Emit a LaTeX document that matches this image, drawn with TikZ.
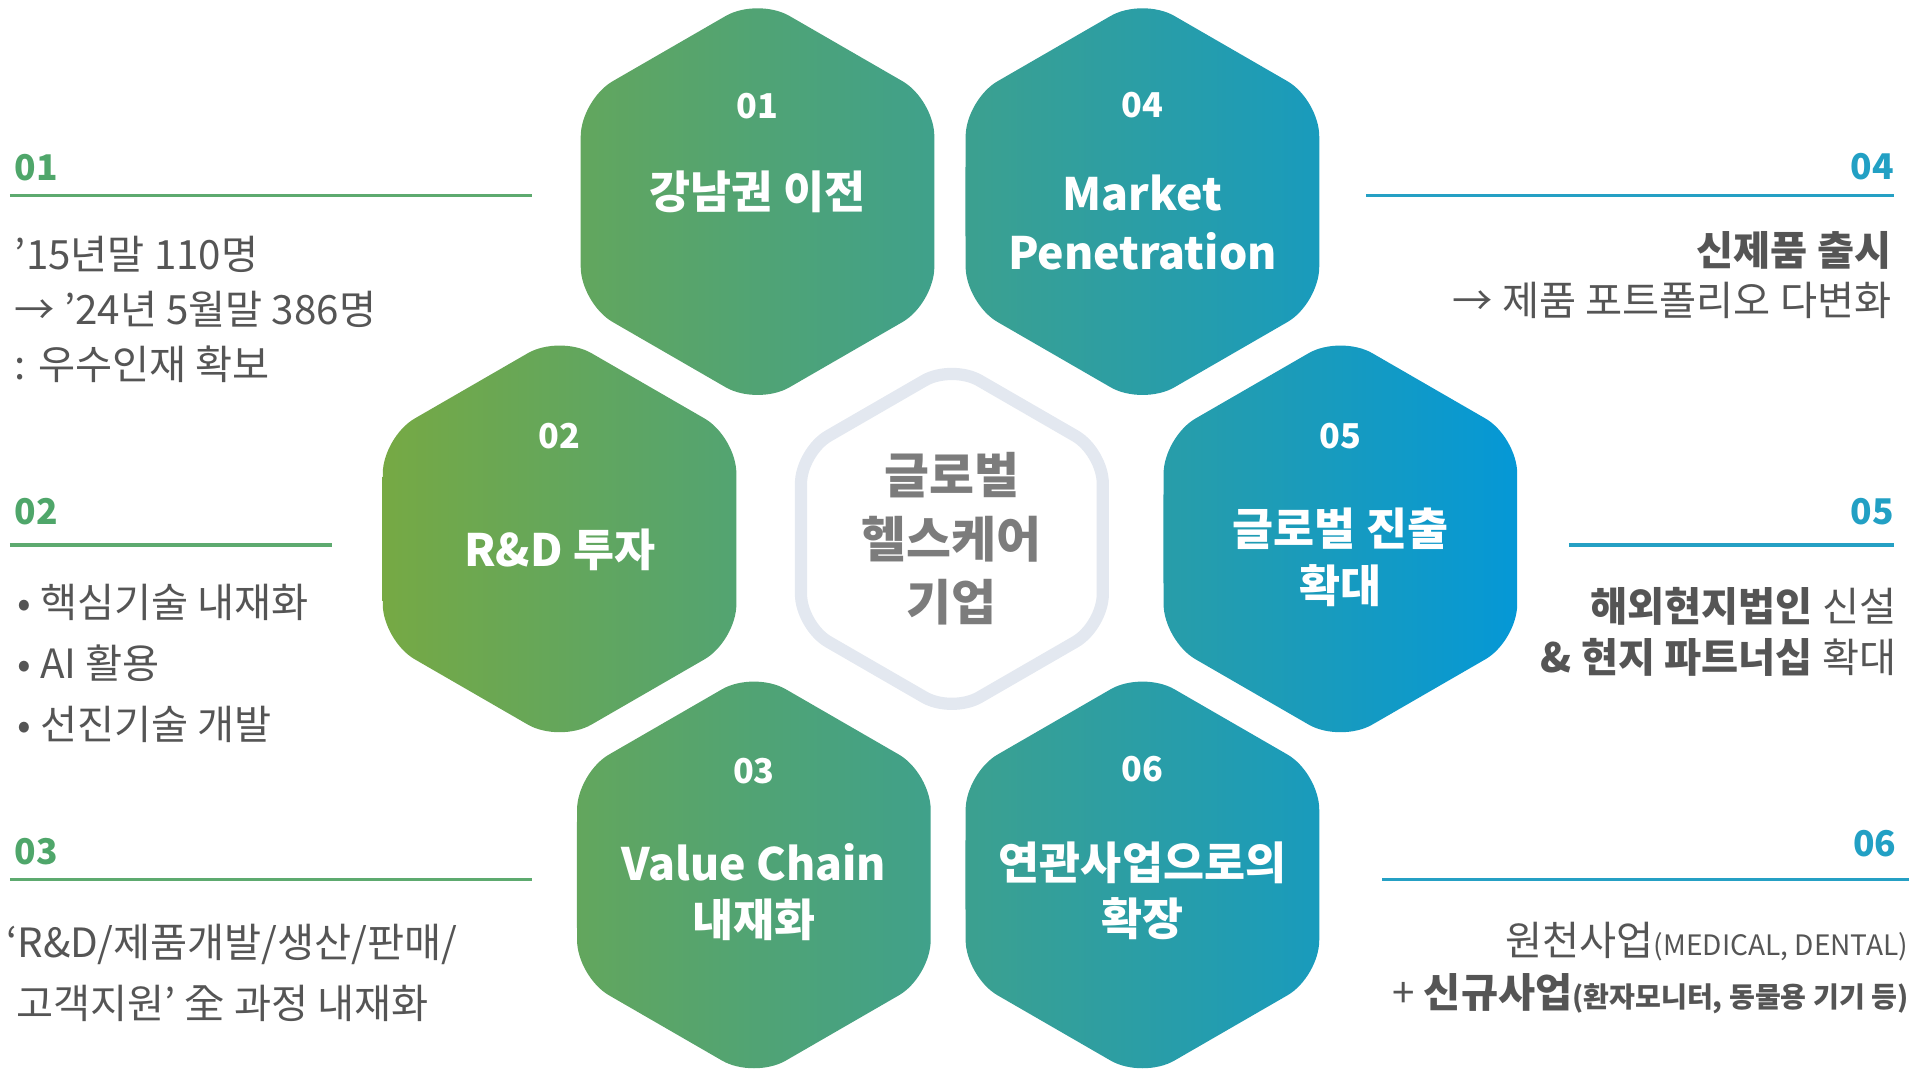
\documentclass[tikz,border=0pt]{standalone}
\usepackage{fontspec}
\setmainfont{Noto Sans CJK KR}
\usetikzlibrary{calc}

\definecolor{hexgreen}{HTML}{76A944}
\definecolor{hexblue}{HTML}{0598D6}
\definecolor{numgreen}{HTML}{4FA66A}
\definecolor{numblue}{HTML}{22A0C4}
\definecolor{rulegreen}{HTML}{5DAA6F}
\definecolor{ruleblue}{HTML}{25A0C4}
\definecolor{bodygray}{HTML}{555555}
\definecolor{coregray}{HTML}{7C7C7C}
\definecolor{coreline}{HTML}{E3E8F0}

\tikzset{
  hexnum/.style={text=white, font=\bfseries\fontsize{28}{34}\selectfont, inner sep=0pt},
  hextitle/.style={text=white, font=\bfseries\fontsize{36.5}{#1}\selectfont, align=center, inner sep=0pt},
  sidenum/.style={font=\bfseries\fontsize{29}{34}\selectfont, inner sep=0pt},
  bodytxt/.style={text=bodygray, font=\fontsize{33}{#1}\selectfont, inner sep=0pt},
  rule/.style={line width=2.5pt}
}

\begin{document}
\begin{tikzpicture}[x=1pt,y=-1pt]
	    \useasboundingbox (0,0) rectangle (1568,876);

	    % hex centres
	    \coordinate (h1) at (620,165);
	    \coordinate (h2) at (458,441);
	    \coordinate (h3) at (617,716);
	    \coordinate (h4) at (935,165);
	    \coordinate (h5) at (1097,441);
	    \coordinate (h6) at (935,716);
	    \coordinate (hc) at (779,441);

	    \shade[left color=hexgreen, right color=hexblue, rounded corners=30pt]
	      \foreach \c in {h1,h2,h3,h4,h5,h6} {
	        ($(\c)+(180:145)$) -- ($(\c)+(150:167)$) -- ($(\c)+(90:167)$) -- ($(\c)+(30:167)$)
	        -- ($(\c)+(-30:167)$) -- ($(\c)+(-90:167)$) -- ($(\c)+(-150:167)$) -- cycle
	      };
	    \draw[coreline, fill=white, line width=10pt, rounded corners=26pt]
	      ($(hc)+(180:123.5)$) -- ($(hc)+(150:142.6)$) -- ($(hc)+(90:142.6)$) -- ($(hc)+(30:142.6)$)
	      -- ($(hc)+(-30:142.6)$) -- ($(hc)+(-90:142.6)$) -- ($(hc)+(-150:142.6)$) -- cycle;

	    \node[hexnum] (n1) at (620,87) {01};
	    \node[hextitle=47] (t1) at (620,157) {강남권 이전};
	    \node[hexnum] (n2) at (458,357) {02};
	    \node[hextitle=47] (t2) at (458,450) {R\&D 투자};
	    \node[hexnum] (n3) at (617,631) {03};
	    \node[hextitle=46] (t3) at (617,730) {Value Chain\\내재화};
	    \node[hexnum] (n4) at (935,86) {04};
	    \node[hextitle=48] (t4) at (935,182) {Market\\Penetration};
	    \node[hexnum] (n5) at (1097,357) {05};
	    \node[hextitle=47] (t5) at (1097,456) {글로벌 진출\\확대};
	    \node[hexnum] (n6) at (935,629) {06};
	    \node[hextitle=46] (t6) at (935,729) {연관사업으로의\\확장};
	    \node[text=coregray, font=\bfseries\fontsize{40}{52}\selectfont, align=center, inner sep=0pt] (core) at (hc) {글로벌\\헬스케어\\기업};

	    % left side
	    \node[sidenum, text=numgreen, anchor=west] (s1) at (12,137) {01};
	    \coordinate (r1a) at (8,160);
	    \coordinate (r1b) at (435,160);
	    \draw[rule, rulegreen] (r1a) -- (r1b);
	    \node[bodytxt=45, anchor=west, align=left] (b1) at (12,253) {’15년말 110명\\→ ’24년 5월말 386명\\: 우수인재 확보};

	    \node[sidenum, text=numgreen, anchor=west] (s2) at (12,419) {02};
	    \coordinate (r2a) at (8,446);
	    \coordinate (r2b) at (272,446);
	    \draw[rule, rulegreen] (r2a) -- (r2b);
	    \node[bodytxt=50, anchor=west, align=left] (b2) at (14,543) {• 핵심기술 내재화\\• AI 활용\\• 선진기술 개발};

	    \node[sidenum, text=numgreen, anchor=west] (s3) at (12,697) {03};
	    \coordinate (r3a) at (8,720);
	    \coordinate (r3b) at (435,720);
	    \draw[rule, rulegreen] (r3a) -- (r3b);
	    \node[bodytxt=50, anchor=west, align=left] (b3) at (5,796) {‘R\&D/제품개발/생산/판매/\\\hspace*{8pt}고객지원’ 全 과정 내재화};

	    % right side
	    \node[sidenum, text=numblue, anchor=east] (s4) at (1550,136) {04};
	    \coordinate (r4a) at (1118,160);
	    \coordinate (r4b) at (1550,160);
	    \draw[rule, ruleblue] (r4a) -- (r4b);
	    \node[bodytxt=41, anchor=east, align=right] (b4) at (1548,225) {\textbf{신제품 출시}\\→ 제품 포트폴리오 다변화};

	    \node[sidenum, text=numblue, anchor=east] (s5) at (1550,419) {05};
	    \coordinate (r5a) at (1284,446);
	    \coordinate (r5b) at (1550,446);
	    \draw[rule, ruleblue] (r5a) -- (r5b);
	    \node[bodytxt=42, anchor=east, align=right] (b5) at (1552,517) {\textbf{해외현지법인} 신설\\\textbf{\& 현지 파트너십} 확대};

	    \node[sidenum, text=numblue, anchor=east] (s6) at (1552,690) {06};
	    \coordinate (r6a) at (1131,720);
	    \coordinate (r6b) at (1562,720);
	    \draw[rule, ruleblue] (r6a) -- (r6b);
	    \node[bodytxt=43, anchor=east, align=right] (b6) at (1562,792) {원천사업{\fontsize{23}{27}\selectfont(MEDICAL, DENTAL)}\\+ \textbf{신규사업}{\bfseries\fontsize{23}{27}\selectfont(환자모니터, 동물용 기기 등)}};
	\end{tikzpicture}
\end{document}
